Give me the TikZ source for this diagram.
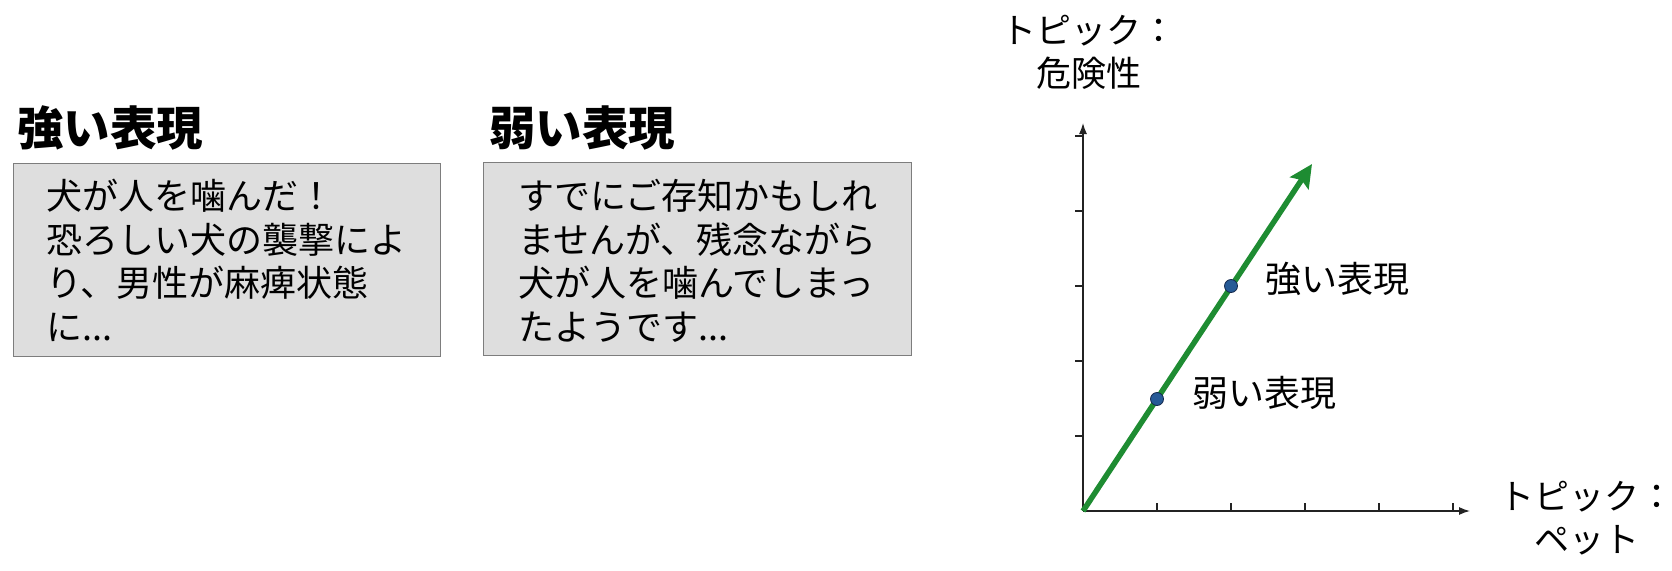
\documentclass[tikz,border=0pt]{standalone}
\usepackage{fontspec}
\setmainfont{Noto Sans CJK JP}
\usetikzlibrary{arrows.meta,calc}
\definecolor{boxfill}{RGB}{222,222,222}
\definecolor{boxline}{RGB}{125,125,125}
\definecolor{vecgreen}{RGB}{30,140,50}
\definecolor{dotblue}{RGB}{38,90,150}
\definecolor{dotline}{RGB}{20,40,75}
\definecolor{axcol}{RGB}{35,35,35}
\tikzset{
  heading/.style={anchor=west, inner sep=0pt, font=\fontsize{46.5}{52}\selectfont\bfseries},
  textbox/.style={draw=boxline, line width=1.3pt, fill=boxfill, minimum width=#1, minimum height=193pt, inner sep=0pt, anchor=north west},
  boxtext/.style={anchor=north west, inner sep=0pt, align=left, font=\fontsize{36}{43.5}\selectfont},
  axis/.style={line width=1.4pt, draw=axcol, -{Latex[length=11pt,width=8pt]}},
  tick/.style={line width=1.2pt, draw=axcol},
  vec/.style={line width=5.5pt, draw=vecgreen, -{Stealth[length=23pt,width=22pt,inset=4pt]}},
  pt/.style={circle, fill=dotblue, draw=dotline, line width=0.8pt, minimum size=13pt, inner sep=0pt},
  lbl/.style={anchor=west, inner sep=0pt, font=\fontsize{36}{40}\selectfont},
  axlbl/.style={align=center, inner sep=0pt, font=\fontsize{35}{43}\selectfont}
}
\begin{document}
\begin{tikzpicture}[x=1pt,y=-1pt]
\useasboundingbox[fill=white] (0,0) rectangle (1672,570);

% left panel
\node[heading] (h1) at (17,128) {強い表現};
\node[textbox=427pt] (box1) at (13,163) {};
\node[boxtext] (t1) at (46,179) {犬が人を噛んだ！\\恐ろしい犬の襲撃によ\\り、男性が麻痺状態\\に...};

\node[heading] (h2) at (489,128) {弱い表現};
\node[textbox=428pt] (box2) at (483,162) {};
\node[boxtext] (t2) at (518,179) {すでにご存知かもしれ\\ませんが、残念ながら\\犬が人を噛んでしまっ\\たようです...};

% graph
\coordinate (O) at (1083,511);
\coordinate (xe) at (1470,511);
\coordinate (ye) at (1083,123);
\coordinate (tip) at (1312,164);

\foreach \i in {1,...,5} {
  \draw[tick] ($(O)+(74*\i,0)$) -- ++(0,-8);
  \draw[tick] ($(O)+(0,-75*\i)$) -- ++(-8,0);
}
\draw[axis] (O) -- (xe);
\draw[axis] (O) -- (ye);

\draw[vec] (O) -- (tip);
\node[pt] (p1) at (1157,399) {};
\node[pt] (p2) at (1231,286) {};
\node[lbl] (l2) at ($(p2)+(34,-7)$) {強い表現};
\node[lbl] (l1) at ($(p1)+(35,-6)$) {弱い表現};

\node[axlbl] (ylab) at (1089,52) {トピック：\\危険性};
\node[axlbl] (xlab) at (1587,518) {トピック：\\ペット};
\end{tikzpicture}
\end{document}
